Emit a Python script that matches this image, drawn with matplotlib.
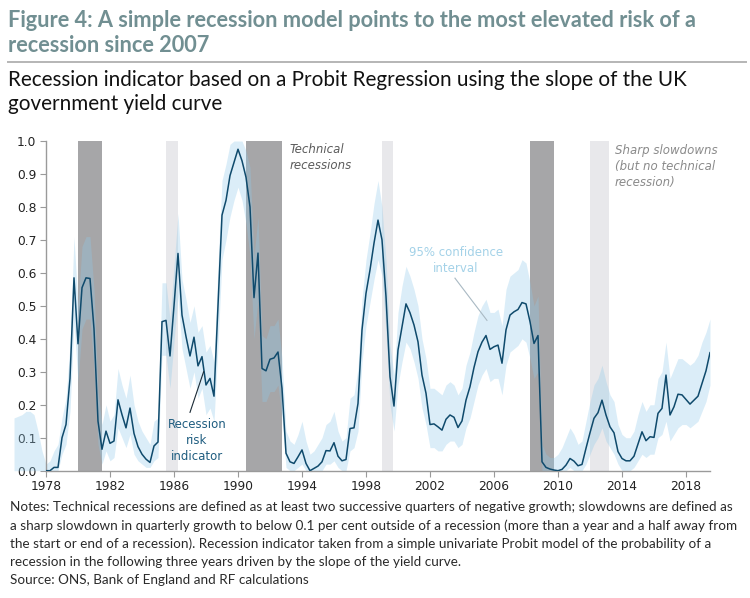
import numpy as np
import matplotlib
matplotlib.use("Agg")
import matplotlib.pyplot as plt
from matplotlib.lines import Line2D

# ---------------- data (quarterly, starting 1978 Q1) ----------------
start_year = 1978
risk = [
    0.000, 0.000, 0.010, 0.010,   # 1978
    0.100, 0.140, 0.280, 0.585,   # 1979
    0.385, 0.555, 0.585, 0.583,   # 1980
    0.430, 0.150, 0.065, 0.120,   # 1981
    0.083, 0.090, 0.215, 0.170,   # 1982
    0.130, 0.190, 0.113, 0.073,   # 1983
    0.050, 0.035, 0.025, 0.075,   # 1984
    0.087, 0.452, 0.456, 0.348,   # 1985
    0.500, 0.659, 0.472, 0.407,   # 1986
    0.348, 0.405, 0.318, 0.346,   # 1987
    0.260, 0.280, 0.226, 0.500,   # 1988
    0.775, 0.820, 0.895, 0.935,   # 1989
    0.975, 0.940, 0.890, 0.800,   # 1990
    0.525, 0.660, 0.310, 0.303,   # 1991
    0.338, 0.342, 0.360, 0.250,   # 1992
    0.053, 0.027, 0.022, 0.042,   # 1993
    0.063, 0.022, 0.000, 0.007,   # 1994
    0.014, 0.027, 0.061, 0.060,   # 1995
    0.085, 0.044, 0.030, 0.034,   # 1996
    0.128, 0.130, 0.204, 0.427,   # 1997
    0.538, 0.609, 0.690, 0.760,   # 1998
    0.700, 0.528, 0.285, 0.196,   # 1999
    0.366, 0.437, 0.506, 0.479,   # 2000
    0.442, 0.391, 0.290, 0.235,   # 2001
    0.140, 0.142, 0.133, 0.123,   # 2002
    0.156, 0.169, 0.162, 0.131,   # 2003
    0.151, 0.214, 0.255, 0.313,   # 2004
    0.361, 0.390, 0.410, 0.368,   # 2005
    0.376, 0.381, 0.326, 0.427,   # 2006
    0.472, 0.482, 0.489, 0.510,   # 2007
    0.506, 0.452, 0.386, 0.410,   # 2008
    0.027, 0.010, 0.005, 0.002,   # 2009
    0.000, 0.004, 0.017, 0.037,   # 2010
    0.029, 0.015, 0.019, 0.068,   # 2011
    0.115, 0.159, 0.176, 0.214,   # 2012
    0.169, 0.133, 0.115, 0.058,   # 2013
    0.037, 0.030, 0.030, 0.044,   # 2014
    0.081, 0.118, 0.091, 0.103,   # 2015
    0.101, 0.174, 0.189, 0.290,   # 2016
    0.169, 0.194, 0.232, 0.230,   # 2017
    0.216, 0.202, 0.214, 0.226,   # 2018
    0.265, 0.303, 0.358,          # 2019
]

# 95% confidence band, starting 1976 Q1
ci_start_year = 1976
ci_upper = [
    0.160, 0.165, 0.170, 0.180,   # 1976
    0.180, 0.170, 0.120, 0.060,   # 1977
    0.020, 0.030, 0.060, 0.080,   # 1978
    0.160, 0.220, 0.380, 0.710,   # 1979
    0.500, 0.680, 0.710, 0.710,   # 1980
    0.550, 0.240, 0.140, 0.200,   # 1981
    0.150, 0.170, 0.310, 0.260,   # 1982
    0.220, 0.290, 0.200, 0.150,   # 1983
    0.120, 0.100, 0.080, 0.150,   # 1984
    0.160, 0.570, 0.570, 0.460,   # 1985
    0.620, 0.780, 0.580, 0.520,   # 1986
    0.450, 0.500, 0.420, 0.440,   # 1987
    0.360, 0.380, 0.330, 0.620,   # 1988
    0.880, 0.930, 0.990, 1.000,   # 1989
    1.000, 1.000, 0.970, 0.920,   # 1990
    0.650, 0.770, 0.410, 0.400,   # 1991
    0.440, 0.440, 0.460, 0.340,   # 1992
    0.120, 0.090, 0.080, 0.110,   # 1993
    0.150, 0.090, 0.050, 0.060,   # 1994
    0.080, 0.100, 0.140, 0.150,   # 1995
    0.180, 0.120, 0.090, 0.100,   # 1996
    0.220, 0.230, 0.310, 0.520,   # 1997
    0.640, 0.720, 0.810, 0.880,   # 1998
    0.800, 0.640, 0.380, 0.290,   # 1999
    0.480, 0.560, 0.620, 0.590,   # 2000
    0.550, 0.500, 0.400, 0.340,   # 2001
    0.250, 0.250, 0.240, 0.230,   # 2002
    0.260, 0.270, 0.260, 0.230,   # 2003
    0.250, 0.320, 0.360, 0.420,   # 2004
    0.470, 0.500, 0.520, 0.480,   # 2005
    0.480, 0.490, 0.440, 0.550,   # 2006
    0.590, 0.600, 0.610, 0.640,   # 2007
    0.630, 0.570, 0.500, 0.530,   # 2008
    0.080, 0.050, 0.040, 0.040,   # 2009
    0.050, 0.070, 0.100, 0.130,   # 2010
    0.110, 0.080, 0.090, 0.150,   # 2011
    0.210, 0.260, 0.280, 0.320,   # 2012
    0.270, 0.230, 0.210, 0.140,   # 2013
    0.110, 0.100, 0.100, 0.120,   # 2014
    0.170, 0.210, 0.180, 0.200,   # 2015
    0.200, 0.280, 0.300, 0.390,   # 2016
    0.280, 0.310, 0.340, 0.340,   # 2017
    0.330, 0.320, 0.330, 0.350,   # 2018
    0.390, 0.420, 0.460,          # 2019
]
ci_lower = [
    0.000, 0.000, 0.000, 0.000,   # 1976
    0.000, 0.000, 0.000, 0.000,   # 1977
    0.000, 0.000, 0.000, 0.000,   # 1978
    0.050, 0.080, 0.180, 0.450,   # 1979
    0.270, 0.430, 0.460, 0.460,   # 1980
    0.310, 0.080, 0.020, 0.060,   # 1981
    0.030, 0.040, 0.130, 0.100,   # 1982
    0.070, 0.110, 0.050, 0.030,   # 1983
    0.020, 0.010, 0.010, 0.030,   # 1984
    0.040, 0.350, 0.350, 0.250,   # 1985
    0.390, 0.530, 0.370, 0.310,   # 1986
    0.250, 0.300, 0.220, 0.250,   # 1987
    0.170, 0.190, 0.150, 0.380,   # 1988
    0.640, 0.700, 0.770, 0.820,   # 1989
    0.860, 0.820, 0.750, 0.650,   # 1990
    0.400, 0.520, 0.210, 0.210,   # 1991
    0.240, 0.240, 0.260, 0.160,   # 1992
    0.010, 0.000, 0.000, 0.010,   # 1993
    0.020, 0.000, 0.000, 0.000,   # 1994
    0.000, 0.000, 0.020, 0.020,   # 1995
    0.030, 0.010, 0.000, 0.000,   # 1996
    0.060, 0.070, 0.120, 0.330,   # 1997
    0.440, 0.510, 0.580, 0.640,   # 1998
    0.590, 0.420, 0.200, 0.120,   # 1999
    0.260, 0.330, 0.390, 0.370,   # 2000
    0.330, 0.280, 0.190, 0.140,   # 2001
    0.070, 0.070, 0.060, 0.060,   # 2002
    0.080, 0.090, 0.090, 0.070,   # 2003
    0.080, 0.130, 0.160, 0.210,   # 2004
    0.260, 0.290, 0.310, 0.270,   # 2005
    0.280, 0.280, 0.230, 0.320,   # 2006
    0.360, 0.370, 0.380, 0.400,   # 2007
    0.390, 0.340, 0.280, 0.300,   # 2008
    0.000, 0.000, 0.000, 0.000,   # 2009
    0.000, 0.000, 0.000, 0.010,   # 2010
    0.000, 0.000, 0.000, 0.020,   # 2011
    0.050, 0.080, 0.100, 0.130,   # 2012
    0.090, 0.070, 0.050, 0.020,   # 2013
    0.000, 0.000, 0.000, 0.010,   # 2014
    0.030, 0.050, 0.040, 0.050,   # 2015
    0.050, 0.100, 0.110, 0.150,   # 2016
    0.090, 0.110, 0.130, 0.140,   # 2017
    0.140, 0.130, 0.140, 0.150,   # 2018
    0.180, 0.210, 0.260,          # 2019
]

technical_recessions = [(1980.0, 1981.5), (1990.5, 1992.75), (2008.25, 2009.75)]
sharp_slowdowns = [(1985.5, 1986.25), (1999.0, 1999.7), (2012.0, 2013.2)]

x_ticks = [1978, 1982, 1986, 1990, 1994, 1998, 2002, 2006, 2010, 2014, 2018]
y_ticks = [0.0, 0.1, 0.2, 0.3, 0.4, 0.5, 0.6, 0.7, 0.8, 0.9, 1.0]

title = ("Figure 4: A simple recession model points to the most elevated risk of a\n"
         "recession since 2007")
subtitle = ("Recession indicator based on a Probit Regression using the slope of the UK\n"
            "government yield curve")
notes = [
    "Notes: Technical recessions are defined as at least two successive quarters of negative growth; slowdowns are defined as",
    "a sharp slowdown in quarterly growth to below 0.1 per cent outside of a recession (more than a year and a half away from",
    "the start or end of a recession). Recession indicator taken from a simple univariate Probit model of the probability of a",
    "recession in the following three years driven by the slope of the yield curve.",
    "Source: ONS, Bank of England and RF calculations",
]

# ---------------- figure ----------------
W, H = 750, 598
fig = plt.figure(figsize=(W / 100, H / 100), dpi=100)
fig.patch.set_facecolor("white")

def fx(px):
    return px / W

def fy(py):
    return 1 - py / H

ax = fig.add_axes([fx(46), fy(470.7), fx(710) - fx(46), fy(141) - fy(470.7)])

years = start_year + np.arange(len(risk)) / 4.0
ci_years = ci_start_year + np.arange(len(ci_upper)) / 4.0

dark_bar = "#a6a6a8"
light_bar = "#e8e8eb"
line_col = "#0f4a6c"
ci_col = "#8fc9ea"
axis_col = "#9a9a9a"

for a, b in technical_recessions:
    ax.axvspan(a, b, ymin=0, ymax=1, color=dark_bar, lw=0, zorder=1)
for a, b in sharp_slowdowns:
    ax.axvspan(a, b, ymin=0, ymax=1, color=light_bar, lw=0, zorder=1)

ax.fill_between(ci_years, ci_lower, ci_upper, color=ci_col, alpha=0.32,
                lw=0, zorder=2, clip_on=False)
ax.plot(years, risk, color=line_col, lw=1.1, zorder=3)

ax.set_xlim(1978, 2019.5)
ax.set_ylim(0, 1.0)
ax.set_xticks(x_ticks)
ax.set_xticklabels([str(t) for t in x_ticks])
ax.set_yticks(y_ticks)
ax.set_yticklabels([f"{t:.1f}" for t in y_ticks])
for s in ["top", "right"]:
    ax.spines[s].set_visible(False)
for s in ["left", "bottom"]:
    ax.spines[s].set_color(axis_col)
    ax.spines[s].set_linewidth(1.0)
ax.tick_params(axis="both", colors=axis_col, length=4, width=0.8,
               labelsize=8.8, labelcolor="#222222")
ax.tick_params(axis="x", pad=3)
ax.tick_params(axis="y", pad=3)
ax.set_facecolor("white")

# annotations
ann_font = dict(family="DejaVu Sans", fontsize=8.5)
ax.text(1993.2, 0.951, "Technical\nrecessions", style="italic", color="#5c5c5c",
        ha="left", va="center", linespacing=1.3, **ann_font)
ax.text(2013.56, 0.923, "Sharp slowdowns\n(but no technical\nrecession)", style="italic",
        color="#8a8a8a", ha="left", va="center", linespacing=1.3, **ann_font)
ax.text(2003.6, 0.638, "95% confidence\ninterval", color="#a4d2e8",
        ha="center", va="center", linespacing=1.3, **ann_font)
ax.plot([2003.56, 2005.56], [0.584, 0.456], color="#a9b9c3", lw=0.8, zorder=4)
ax.text(1987.44, 0.093, "Recession\nrisk\nindicator", color="#1f5d80",
        ha="center", va="center", linespacing=1.3, **ann_font)
ax.plot([1987.0, 1987.85], [0.177, 0.300], color="#1a2a35", lw=0.8, zorder=4)

# titles
renderer = fig.canvas.get_renderer()

def fit_width(t, target_px):
    bb = t.get_window_extent(renderer)
    t.set_fontsize(t.get_fontsize() * target_px / bb.width)

t1 = fig.text(fx(8), fy(33), title, family="Lato", weight="bold", color="#718f92",
              fontsize=13, ha="left", va="center", linespacing=1.25)
line1 = fig.text(fx(8), fy(20), title.split("\n")[0], family="Lato", weight="bold",
                 fontsize=13, alpha=0)
fit_width(line1, 689)
t1.set_fontsize(line1.get_fontsize())
line1.remove()

fig.add_artist(Line2D([fx(8), fx(746)], [fy(62), fy(62)], color="#b5b5b5", lw=1.4))

t2 = fig.text(fx(8), fy(92), subtitle, family="Lato", color="#111111",
              fontsize=13, ha="left", va="center", linespacing=1.25)
line2 = fig.text(fx(8), fy(80), subtitle.split("\n")[0], family="Lato", fontsize=13, alpha=0)
fit_width(line2, 678)
t2.set_fontsize(line2.get_fontsize())
line2.remove()

# notes
probe = fig.text(0, 0, notes[0], family="Lato", fontsize=9, alpha=0)
fit_width(probe, 723)
nfs = probe.get_fontsize()
probe.remove()
note_y = [507, 525.5, 544, 562, 580.5]
for txt, yy in zip(notes, note_y):
    fig.text(fx(10), fy(yy), txt, family="Lato", fontsize=nfs, color="#2a2a2a",
             ha="left", va="center")

fig.savefig("out.png", dpi=100, facecolor="white")
